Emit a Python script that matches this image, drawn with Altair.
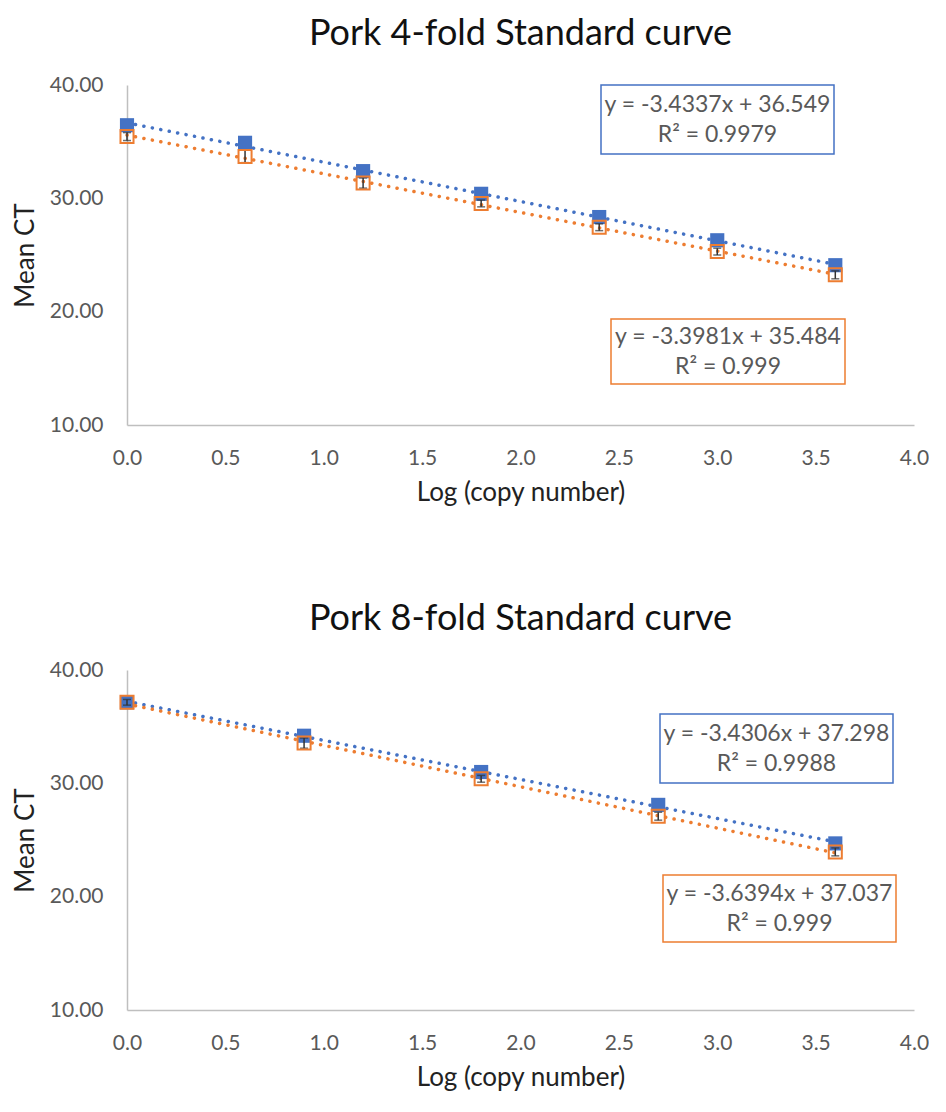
import altair as alt
import pandas as pd

FONT = "Lato"
BLUE = "#4472C4"
ORANGE = "#ED7D31"
GRAY = "#595959"

# ---- data: 4-fold ----
x4 = [0.0, 0.6, 1.2, 1.8, 2.4, 3.0, 3.6]
blue4 = [36.45, 34.90, 32.40, 30.40, 28.35, 26.30, 24.10]
orange4 = [35.45, 33.70, 31.35, 29.55, 27.45, 25.30, 23.25]
orange4_err = [0.35, 0.55, 0.45, 0.30, 0.30, 0.30, 0.35]

# ---- data: 8-fold ----
x8 = [0.0, 0.9, 1.8, 2.7, 3.6]
blue8 = [37.15, 34.20, 31.00, 28.10, 24.70]
orange8 = [37.15, 33.55, 30.40, 27.10, 23.95]
orange8_err = [0.25, 0.45, 0.30, 0.35, 0.35]

titles = ["Pork 4-fold Standard curve", "Pork 8-fold Standard curve"]
eq_blue = [["y = -3.4337x + 36.549", "R² = 0.9979"], ["y = -3.4306x + 37.298", "R² = 0.9988"]]
eq_orange = [["y = -3.3981x + 35.484", "R² = 0.999"], ["y = -3.6394x + 37.037", "R² = 0.999"]]
x_ticks = [0, 0.5, 1, 1.5, 2, 2.5, 3, 3.5, 4]
y_ticks = [10, 20, 30, 40]

W, H = 787, 340

# annotation box pixel positions within plot area: (x1, x2, y1, y2)
box_blue = [(474, 707, 0, 69), (533, 766, 44, 113)]
box_orange = [(484, 718, 234, 299), (536, 769, 205, 272)]


def make_panel(xs, yb, yo, eo, title, eqb, eqo, bb, bo):
    df = pd.DataFrame({
        "x": xs + xs,
        "y": yb + yo,
        "err": [0.0] * len(xs) + eo,
        "series": ["Blue"] * len(xs) + ["Orange"] * len(xs),
    })
    xe = alt.X("x:Q", scale=alt.Scale(domain=[0, 4], nice=False),
               axis=alt.Axis(values=x_ticks, format=".1f", title="Log (copy number)"))
    ysc = alt.Scale(domain=[10, 40], nice=False, zero=False)
    ye = alt.Y("y:Q", scale=ysc,
               axis=alt.Axis(values=y_ticks, format=".2f", title="Mean CT"))

    base = alt.Chart(df)
    lines = base.transform_regression("x", "y", groupby=["series"], extent=[0, 3.6]).mark_line(
        strokeDash=[0.1, 8.5], strokeCap="round", strokeWidth=3.5
    ).encode(
        x=xe, y=ye,
        color=alt.Color("series:N", scale=alt.Scale(domain=["Blue", "Orange"], range=[BLUE, ORANGE]), legend=None),
    )
    pts_b = base.transform_filter("datum.series == 'Blue'").mark_point(
        shape="square", filled=True, size=200, color=BLUE, opacity=1
    ).encode(x=xe, y=ye)
    orng = base.transform_filter("datum.series == 'Orange'").transform_calculate(
        lo="datum.y - datum.err", hi="datum.y + datum.err"
    )
    err_o = orng.mark_rule(color="#333333", strokeWidth=1.5).encode(
        x=xe, y=alt.Y("lo:Q", scale=ysc), y2="hi:Q")
    cap_lo = orng.mark_tick(color="#333333", thickness=1.5, size=8, orient="horizontal").encode(
        x=xe, y=alt.Y("lo:Q", scale=ysc))
    cap_hi = orng.mark_tick(color="#333333", thickness=1.5, size=8, orient="horizontal").encode(
        x=xe, y=alt.Y("hi:Q", scale=ysc))
    pts_o = base.transform_filter("datum.series == 'Orange'").mark_point(
        shape="square", filled=False, size=170, color=ORANGE, strokeWidth=2, opacity=1
    ).encode(x=xe, y=ye)

    def box(b, col, lines_txt):
        bdf = pd.DataFrame({"label": ["\n".join(lines_txt)]})
        r = alt.Chart(bdf).mark_rect(fill="white", stroke=col, strokeWidth=1.5).encode(
            x=alt.value(b[0]), x2=alt.value(b[1]), y=alt.value(b[2]), y2=alt.value(b[3]))
        t = alt.Chart(bdf).mark_text(font=FONT, fontSize=23, color=GRAY, baseline="middle",
                                     lineBreak="\n", lineHeight=30).encode(
            text="label:N",
            x=alt.value((b[0] + b[1]) / 2),
            y=alt.value((b[2] + b[3]) / 2 - 15),
        )
        return r, t

    rb, tb = box(bb, BLUE, eqb)
    ro, to = box(bo, ORANGE, eqo)

    return alt.layer(lines, pts_b, err_o, cap_lo, cap_hi, pts_o, rb, tb, ro, to).properties(
        width=W, height=H, title=alt.TitleParams(title, offset=21))


p1 = make_panel(x4, blue4, orange4, orange4_err, titles[0], eq_blue[0], eq_orange[0], box_blue[0], box_orange[0])
p2 = make_panel(x8, blue8, orange8, orange8_err, titles[1], eq_blue[1], eq_orange[1], box_blue[1], box_orange[1])

chart = alt.vconcat(p1, p2, spacing=96).properties(
    padding={"left": 4, "top": 8, "right": 0, "bottom": 7}
).configure_view(stroke=None).configure_axis(
    grid=False, ticks=False, domainColor="#BFBFBF", domainWidth=1.5, labelFlush=False,
    labelFont=FONT, labelFontSize=21, labelColor=GRAY,
    titleFont=FONT, titleFontSize=26, titleColor="#222222", titleFontWeight="normal",
).configure_axisX(labelPadding=22, titlePadding=11).configure_axisY(
    labelPadding=24, titlePadding=11
).configure_title(font=FONT, fontSize=36, fontWeight="normal", color="#111111", anchor="middle")

chart.save("out.html", embed_options={"renderer": "svg", "actions": False})
